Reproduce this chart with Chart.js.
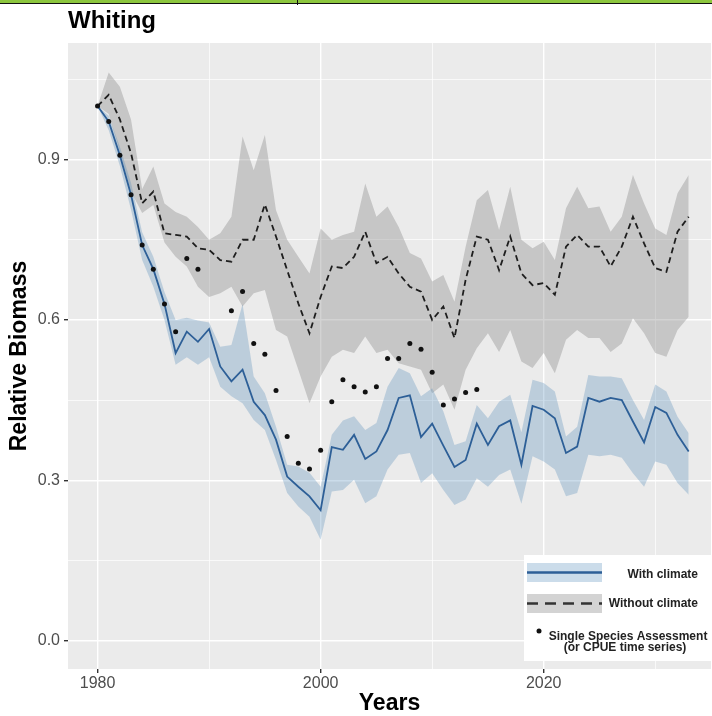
<!DOCTYPE html>
<html lang="en">
<head>
<meta charset="UTF-8">
<title>Whiting</title>
<script src="https://cdn.jsdelivr.net/npm/chart.js"></script>
<style>
  html, body { margin: 0; padding: 0; background: #fff; overflow: hidden; }
  #wrap { position: relative; width: 712px; height: 716px; overflow: hidden; }
  #topbar { position: absolute; left: 0; top: 0; width: 712px; height: 3px; background: #8cc63e; border-bottom: 1px solid #111; }
  #topcut { position: absolute; left: 297px; top: 0; width: 1px; height: 5px; background: #111; }
</style>
</head>
<body>
<div id="wrap">
  <canvas id="myChart" width="715" height="716"></canvas>
  <div id="topbar"></div>
  <div id="topcut"></div>
</div>
<script>
const FONT = "'Liberation Sans', Arial, sans-serif";

// years of the projection
const years = [1980, 1981, 1982, 1983, 1984, 1985, 1986, 1987, 1988, 1989,
               1990, 1991, 1992, 1993, 1994, 1995, 1996, 1997, 1998, 1999,
               2000, 2001, 2002, 2003, 2004, 2005, 2006, 2007, 2008, 2009,
               2010, 2011, 2012, 2013, 2014, 2015, 2016, 2017, 2018, 2019,
               2020, 2021, 2022, 2023, 2024, 2025, 2026, 2027, 2028, 2029,
               2030, 2031, 2032, 2033];

// with climate: median and band
const withClimate = [1.000, 0.971, 0.908, 0.834, 0.740, 0.695, 0.630, 0.538, 0.578, 0.559,
                     0.583, 0.513, 0.485, 0.507, 0.447, 0.422, 0.376, 0.307, 0.288, 0.270,
                     0.244, 0.362, 0.357, 0.385, 0.340, 0.354, 0.394, 0.454, 0.459, 0.381,
                     0.406, 0.365, 0.325, 0.338, 0.406, 0.366, 0.401, 0.412, 0.329, 0.439,
                     0.432, 0.416, 0.351, 0.363, 0.454, 0.447, 0.454, 0.450, 0.410, 0.371,
                     0.437, 0.426, 0.385, 0.354];
const withLo = [1.000, 0.955, 0.888, 0.806, 0.712, 0.662, 0.600, 0.516, 0.530, 0.516,
                0.530, 0.475, 0.457, 0.444, 0.413, 0.394, 0.338, 0.276, 0.251, 0.232,
                0.189, 0.279, 0.282, 0.301, 0.257, 0.270, 0.320, 0.348, 0.351, 0.295,
                0.313, 0.282, 0.254, 0.264, 0.304, 0.288, 0.310, 0.320, 0.256, 0.345,
                0.335, 0.320, 0.270, 0.276, 0.348, 0.345, 0.348, 0.342, 0.313, 0.288,
                0.335, 0.329, 0.295, 0.273];
const withHi = [1.000, 0.982, 0.924, 0.856, 0.764, 0.718, 0.652, 0.600, 0.604, 0.599,
                0.595, 0.550, 0.553, 0.630, 0.494, 0.463, 0.400, 0.329, 0.326, 0.314,
                0.288, 0.385, 0.412, 0.420, 0.394, 0.407, 0.475, 0.510, 0.500, 0.457,
                0.472, 0.429, 0.366, 0.373, 0.441, 0.416, 0.447, 0.460, 0.390, 0.488,
                0.482, 0.466, 0.382, 0.400, 0.497, 0.494, 0.494, 0.491, 0.450, 0.413,
                0.479, 0.466, 0.419, 0.388];

// without climate: median and band
const withoutClimate = [1.000, 1.021, 0.975, 0.912, 0.818, 0.840, 0.762, 0.759, 0.756, 0.734,
                        0.731, 0.712, 0.709, 0.750, 0.750, 0.816, 0.756, 0.693, 0.631, 0.575,
                        0.643, 0.700, 0.697, 0.718, 0.765, 0.706, 0.718, 0.687, 0.662, 0.653,
                        0.600, 0.625, 0.566, 0.675, 0.756, 0.750, 0.693, 0.756, 0.687, 0.665,
                        0.669, 0.647, 0.737, 0.759, 0.737, 0.737, 0.700, 0.737, 0.793, 0.743,
                        0.697, 0.690, 0.765, 0.793];
const withoutLo = [1.000, 0.985, 0.915, 0.840, 0.800, 0.815, 0.745, 0.718, 0.700, 0.662,
                   0.643, 0.650, 0.662, 0.625, 0.650, 0.656, 0.581, 0.569, 0.507, 0.444,
                   0.494, 0.531, 0.544, 0.538, 0.569, 0.538, 0.544, 0.519, 0.513, 0.507,
                   0.463, 0.479, 0.432, 0.507, 0.547, 0.575, 0.540, 0.581, 0.522, 0.510,
                   0.538, 0.500, 0.563, 0.581, 0.566, 0.566, 0.540, 0.556, 0.603, 0.575,
                   0.538, 0.531, 0.581, 0.606];
const withoutHi = [1.000, 1.063, 1.036, 0.975, 0.845, 0.887, 0.818, 0.802, 0.793, 0.774,
                   0.750, 0.762, 0.793, 0.943, 0.880, 0.946, 0.805, 0.750, 0.718, 0.687,
                   0.771, 0.750, 0.759, 0.765, 0.855, 0.793, 0.812, 0.774, 0.725, 0.715,
                   0.672, 0.684, 0.634, 0.737, 0.824, 0.843, 0.768, 0.849, 0.750, 0.734,
                   0.746, 0.712, 0.809, 0.849, 0.809, 0.812, 0.765, 0.793, 0.871, 0.818,
                   0.771, 0.759, 0.837, 0.871];

// single species assessment points
const assessYears = [1980, 1981, 1982, 1983, 1984, 1985, 1986, 1987, 1988, 1989,
                     1992, 1993, 1994, 1995, 1996, 1997, 1998, 1999, 2000, 2001,
                     2002, 2003, 2004, 2005, 2006, 2007, 2008, 2009, 2010, 2011,
                     2012, 2013, 2014];
const assessValues = [1.000, 0.971, 0.908, 0.834, 0.740, 0.695, 0.630, 0.578, 0.715, 0.695,
                      0.617, 0.653, 0.556, 0.536, 0.468, 0.382, 0.332, 0.321, 0.356, 0.447,
                      0.488, 0.475, 0.465, 0.475, 0.528, 0.528, 0.556, 0.545, 0.502, 0.441,
                      0.452, 0.464, 0.470];

// axes
const xGrid = [1980, 1990, 2000, 2010, 2020, 2030];
const xLabels = [1980, 2000, 2020];
const yGrid = [0, 0.15, 0.3, 0.45, 0.6, 0.75, 0.9, 1.05];
const yLabels = ['0.0', '0.3', '0.6', '0.9'];

const BLUE_LINE = '#2d5f97';
const BLUE_BAND = 'rgba(70,130,180,0.28)';
const GREY_BAND = 'rgba(128,128,128,0.35)';
const DASH_COLOR = '#1e1e1e';
const NONE = 'rgba(0,0,0,0)';

const pts = (xs, vs) => xs.map((x, i) => ({ x: x, y: vs[i] }));
const isMajorX = v => xLabels.includes(v);
const isMajorY = v => yLabels.includes(v.toFixed(1)) && Math.abs(v * 10 - Math.round(v * 10)) < 1e-6;

const panelBg = {
    id: 'panelBg',
    beforeDraw(chart) {
        const a = chart.chartArea;
        const c = chart.ctx;
        c.save();
        c.fillStyle = '#ebebeb';
        c.fillRect(a.left, a.top, a.right - a.left, a.bottom - a.top);
        c.restore();
    }
};

// legend box in the lower right corner of the panel
const boxLegend = {
    id: 'boxLegend',
    afterDraw(chart) {
        const a = chart.chartArea;
        const c = chart.ctx;
        const L = a.right - 187, T = a.bottom - 114;
        c.save();
        c.fillStyle = '#fff';
        c.fillRect(L, T, 190, 106);

        // with climate
        c.fillStyle = BLUE_BAND;
        c.fillRect(L + 3, T + 8, 75, 19);
        c.strokeStyle = BLUE_LINE;
        c.lineWidth = 2.5;
        c.beginPath(); c.moveTo(L + 3, T + 17.5); c.lineTo(L + 78, T + 17.5); c.stroke();

        // without climate
        c.fillStyle = GREY_BAND;
        c.fillRect(L + 3, T + 39, 75, 19);
        c.strokeStyle = '#333';
        c.setLineDash([11, 7]);
        c.beginPath(); c.moveTo(L + 3, T + 48.5); c.lineTo(L + 78, T + 48.5); c.stroke();
        c.setLineDash([]);

        // assessment dot
        c.fillStyle = '#111';
        c.beginPath(); c.arc(L + 15, T + 76, 2.5, 0, Math.PI * 2); c.fill();

        c.fillStyle = '#222';
        c.font = 'bold 12px ' + FONT;
        c.textBaseline = 'middle';
        c.textAlign = 'right';
        c.fillText('With climate', L + 174, T + 20);
        c.fillText('Without climate', L + 174, T + 49);
        c.textAlign = 'center';
        c.fillText('Single Species Assessment', L + 104, T + 82);
        c.fillText('(or CPUE time series)', L + 101, T + 93);
        c.restore();
    }
};

const ctx = document.getElementById('myChart').getContext('2d');

new Chart(ctx, {
    type: 'line',
    data: {
        datasets: [
            {   // 0 assessment
                data: pts(assessYears, assessValues),
                showLine: false,
                pointRadius: 2.5,
                pointBackgroundColor: '#111',
                pointBorderWidth: 0,
                order: 1
            },
            {   // 1 with climate line
                data: pts(years, withClimate),
                borderColor: BLUE_LINE,
                borderWidth: 1.8,
                pointRadius: 0,
                fill: false,
                order: 2
            },
            {   // 2 with climate lower
                data: pts(years, withLo),
                borderColor: NONE,
                borderWidth: 0,
                pointRadius: 0,
                fill: false,
                order: 4
            },
            {   // 3 with climate upper
                data: pts(years, withHi),
                borderColor: NONE,
                borderWidth: 0,
                pointRadius: 0,
                backgroundColor: BLUE_BAND,
                fill: '-1',
                order: 3
            },
            {   // 4 without climate line
                data: pts(years, withoutClimate),
                borderColor: DASH_COLOR,
                borderWidth: 1.8,
                borderDash: [6, 4],
                pointRadius: 0,
                fill: false,
                order: 5
            },
            {   // 5 without climate lower
                data: pts(years, withoutLo),
                borderColor: NONE,
                borderWidth: 0,
                pointRadius: 0,
                fill: false,
                order: 7
            },
            {   // 6 without climate upper
                data: pts(years, withoutHi),
                borderColor: NONE,
                borderWidth: 0,
                pointRadius: 0,
                backgroundColor: GREY_BAND,
                fill: '-1',
                order: 6
            }
        ]
    },
    options: {
        responsive: false,
        animation: false,
        layout: { padding: 0 },
        elements: { line: { tension: 0 } },
        plugins: {
            legend: { display: false },
            tooltip: { enabled: false },
            title: {
                display: true,
                text: 'Whiting',
                align: 'start',
                fullSize: false,
                color: '#000',
                font: { family: FONT, size: 24, weight: 'bold', lineHeight: 1.2 },
                padding: { top: 6.6, bottom: 7.6 }
            }
        },
        scales: {
            x: {
                type: 'linear',
                min: 1977.35,
                max: 2035.0,
                afterBuildTicks: s => { s.ticks = xGrid.map(v => ({ value: v })); },
                afterFit: s => { s.height = 47; },
                border: { display: false },
                grid: {
                    color: '#fff',
                    lineWidth: c => isMajorX(c.tick.value) ? 1.4 : 0.7,
                    tickColor: c => isMajorX(c.tick.value) ? '#333' : NONE,
                    tickLength: 4
                },
                ticks: {
                    autoSkip: false,
                    maxRotation: 0,
                    padding: 1,
                    color: '#4d4d4d',
                    font: { family: FONT, size: 16 },
                    callback: v => isMajorX(v) ? String(v) : ''
                },
                title: {
                    display: true,
                    text: 'Years',
                    color: '#000',
                    font: { family: FONT, size: 23, weight: 'bold', lineHeight: 1 },
                    padding: { top: 0, bottom: 0.5 }
                }
            },
            y: {
                type: 'linear',
                min: -0.053,
                max: 1.118,
                afterBuildTicks: s => { s.ticks = yGrid.map(v => ({ value: v })); },
                afterFit: s => { s.width = 68; },
                border: { display: false },
                grid: {
                    color: '#fff',
                    lineWidth: c => isMajorY(c.tick.value) ? 1.4 : 0.7,
                    tickColor: c => isMajorY(c.tick.value) ? '#333' : NONE,
                    tickLength: 4
                },
                ticks: {
                    autoSkip: false,
                    padding: 4,
                    color: '#4d4d4d',
                    font: { family: FONT, size: 16 },
                    callback: v => isMajorY(v) ? v.toFixed(1) : ''
                },
                title: {
                    display: true,
                    text: 'Relative Biomass',
                    color: '#000',
                    font: { family: FONT, size: 23, weight: 'bold', lineHeight: 1 },
                    padding: { top: 8.5, bottom: 0 }
                }
            }
        }
    },
    plugins: [panelBg, boxLegend]
});
</script>
</body>
</html>
